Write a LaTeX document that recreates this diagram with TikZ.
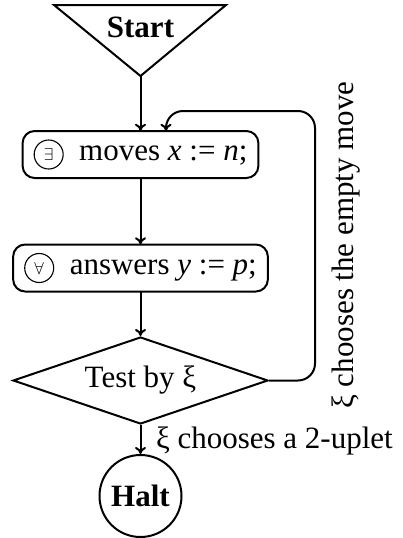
\documentclass[tikz,border=0pt]{standalone}
\usepackage{fontspec}
\setmainfont{Liberation Serif}
\usetikzlibrary{shapes.geometric,calc,arrows.meta}
\newcommand{\circsym}[1]{\tikz[baseline=(cs.base)]\node[circle,draw,line width=1.1pt,inner sep=0pt,minimum size=29pt,font=\fontsize{19}{19}\selectfont](cs){#1};}
\begin{document}
\begin{tikzpicture}[x=1pt,y=-1pt,line width=2pt,
  every node/.style={font=\fontsize{31}{36}\selectfont},
  stepbox/.style={draw,rounded corners=12pt,minimum height=47pt,inner xsep=11pt,inner ysep=0pt},
  arr/.style={-{To[length=7pt,width=11pt]}}]
\useasboundingbox (0,0) rectangle (402,538);
% Start triangle
\draw (54,5) -- (226,5) -- (140.5,76) -- cycle;
\node[font=\fontsize{31}{36}\selectfont\bfseries] (start) at (140.5,27) {Start};
\coordinate (startapex) at (140.5,76);
\node[stepbox] (m1) at (140.5,154.5) {\circsym{$\exists$}~~moves \textit{x}~:=~\textit{n};};
\node[stepbox] (m2) at (140.5,268) {\circsym{$\forall$}~~answers \textit{y}~:=~\textit{p};};
\node[draw,diamond,aspect=2.9,minimum width=255pt,minimum height=87pt,inner sep=0pt] (test) at (140.5,380.5) {Test by ξ};
\node[draw,circle,minimum size=82pt,inner sep=0pt,font=\fontsize{31}{36}\selectfont\bfseries] (halt) at (140.5,496) {Halt};
\draw[arr] (startapex) -- (m1.north);
\draw[arr] (m1.south) -- (m2.north);
\draw[arr] (m2.south) -- (test.north);
\draw[arr] (test.south) -- (halt.north);
\coordinate (lr) at (315,111);
\coordinate (lt) at (166,111);
\draw[arr,rounded corners=17pt] (test.east) -| (lr) -- (lt) -- (lt |- m1.north);
\node[rotate=90] (lab1) at (346,245) {ξ chooses the empty move};
\node[anchor=base west,inner sep=0pt] (lab2) at (155,448) {ξ chooses a 2-uplet};
\end{tikzpicture}
\end{document}
